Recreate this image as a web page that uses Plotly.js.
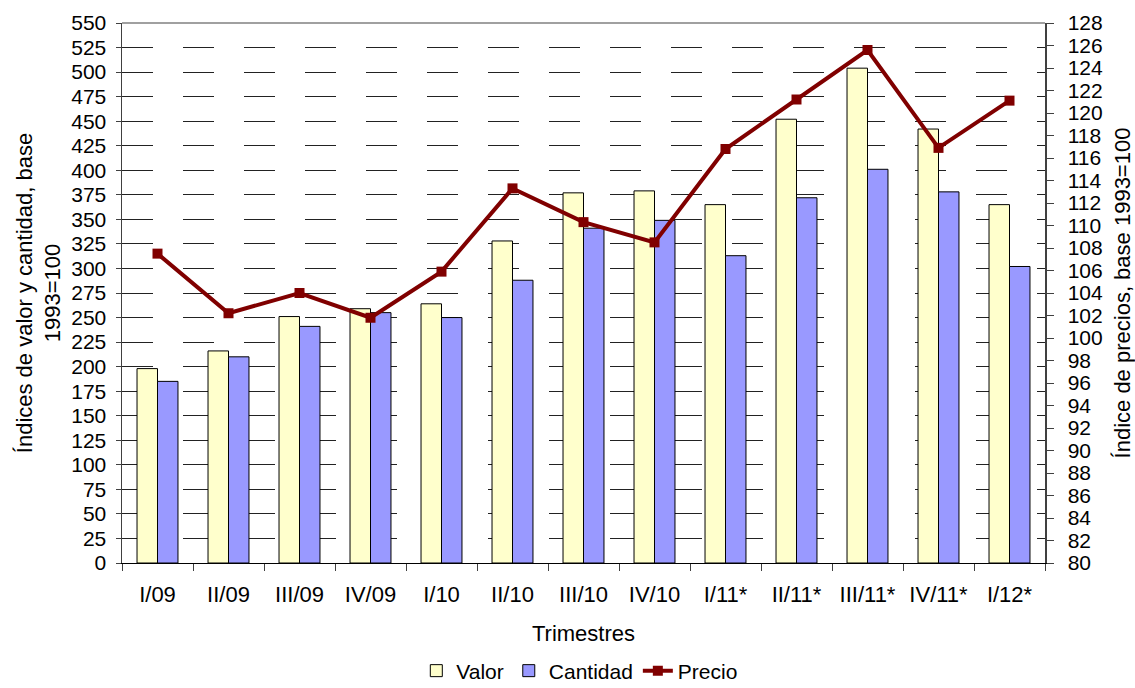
<!DOCTYPE html>
<html>
<head>
<meta charset="utf-8">
<script src="https://cdn.plot.ly/plotly-3.0.1.min.js"></script>
<style>html,body{margin:0;padding:0;background:#fff;}#chart{width:1135px;height:688px;}</style>
</head>
<body>
<div id="chart"></div>
<script>
const categories = ["I/09","II/09","III/09","IV/09","I/10","II/10","III/10","IV/10","I/11*","II/11*","III/11*","IV/11*","I/12*"];
const valor    = [198, 216, 251, 259, 264, 328, 377, 379, 365, 452, 504, 442, 365];
const cantidad = [185, 210, 241, 255, 250, 288, 341, 349, 313, 372, 401, 378, 302];
const precio   = [107.5, 102.2, 104.0, 101.8, 105.9, 113.3, 110.3, 108.5, 116.8, 121.2, 125.6, 116.9, 121.1];

const fontFam = "Liberation Sans, Arial, sans-serif";

const traces = [
  {type:"bar", name:"Valor", x:categories, y:valor,
   marker:{color:"#FFFFCC", line:{color:"#000000", width:1}}},
  {type:"bar", name:"Cantidad", x:categories, y:cantidad,
   marker:{color:"#9999FF", line:{color:"#000000", width:1}}},
  {type:"scatter", mode:"lines+markers", name:"Precio", x:categories, y:precio, yaxis:"y2",
   line:{color:"#800000", width:4}, marker:{symbol:"square", size:10, color:"#800000"}}
];

const layout = {
  width:1135, height:688,
  margin:{l:122, r:90, t:23, b:125, autoexpand:false},
  paper_bgcolor:"#ffffff", plot_bgcolor:"#ffffff",
  font:{family:fontFam, size:22, color:"#000"},
  barmode:"group", bargap:0.423, bargroupgap:0,
  showlegend:true,
  legend:{orientation:"h", x:0.496, xanchor:"center", y:-0.2, yanchor:"middle",
          font:{size:21}, traceorder:"normal", itemwidth:30, tracegroupgap:0},
  xaxis:{
    type:"category", range:[-0.5, 12.5], tickson:"boundaries", ticks:"outside", ticklen:7, tickcolor:"#404040",
    showline:true, linecolor:"#000", linewidth:1,
    tickfont:{size:22}, showgrid:false, automargin:false, ticklabelstandoff:12,
    title:{text:"Trimestres", font:{size:22}, standoff:19}
  },
  yaxis:{
    range:[0,550], dtick:25, tick0:0, ticks:"outside", ticklen:5, tickcolor:"#404040",
    showline:true, linecolor:"#404040", linewidth:1.5,
    showgrid:true, gridcolor:"#222", gridwidth:1, griddash:"31px,30px",
    zeroline:false, tickfont:{size:21}, automargin:false, ticklabelstandoff:5,
    title:{text:"Índices de valor y cantidad, base<br>1993=100", font:{size:22}, standoff:4}
  },
  yaxis2:{
    overlaying:"y", side:"right", range:[80,128], dtick:2, tick0:80,
    ticks:"outside", ticklen:7, tickcolor:"#404040",
    showline:true, linecolor:"#404040", linewidth:1.5,
    showgrid:false, zeroline:false, tickfont:{size:21}, automargin:false, ticklabelstandoff:10,
    title:{text:"Índice de precios, base 1993=100", font:{size:22}, standoff:12}
  },
  shapes:[
    {type:"line", xref:"paper", yref:"paper", x0:0, x1:1, y0:1, y1:1, line:{color:"#808080", width:1.5}}
  ]
};

Plotly.newPlot("chart", traces, layout, {displayModeBar:false, staticPlot:true});
</script>
</body>
</html>
